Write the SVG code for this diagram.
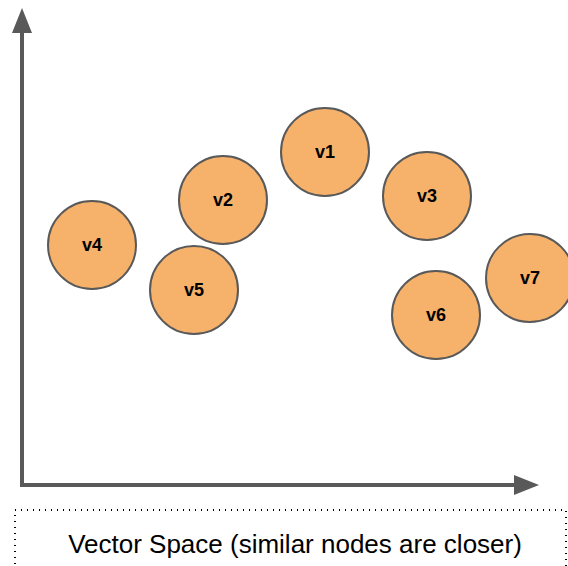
<svg xmlns="http://www.w3.org/2000/svg" width="568" height="566" viewBox="0 0 568 566">
<style>
.n circle{fill:#F6B26B;stroke:#595959;stroke-width:2}
.n text{font-family:"Liberation Sans",Arial,sans-serif;font-weight:bold;font-size:18px;fill:#000;text-anchor:middle}
.axis{stroke:#595959;stroke-width:4;fill:none}
.cap{font-family:"Liberation Sans",Arial,sans-serif;font-size:26px;fill:#000;text-anchor:middle}
</style>
<rect width="568" height="566" fill="#fff"/>
<g id="axes">
<path class="axis" d="M22 485 V30"/>
<path class="axis" d="M20 485 H515"/>
<polygon points="22,8 12,33 32,33" fill="#595959"/>
<polygon points="539,485 514,475 514,495" fill="#595959"/>
</g>
<g id="caption">
<rect x="15" y="510" width="551" height="70" fill="none" stroke="#000" stroke-width="2" stroke-dasharray="1 5"/>
<text class="cap" x="295" y="553">Vector Space (similar nodes are closer)</text>
</g>
<g id="v1" class="n"><circle cx="325" cy="152" r="44"/><text x="325" y="158">v1</text></g>
<g id="v2" class="n"><circle cx="223" cy="200" r="44"/><text x="223" y="206">v2</text></g>
<g id="v3" class="n"><circle cx="427" cy="196" r="44"/><text x="427" y="202">v3</text></g>
<g id="v4" class="n"><circle cx="92" cy="245" r="44"/><text x="92" y="251">v4</text></g>
<g id="v5" class="n"><circle cx="194" cy="290" r="44"/><text x="194" y="296">v5</text></g>
<g id="v6" class="n"><circle cx="436" cy="315" r="44"/><text x="436" y="321">v6</text></g>
<g id="v7" class="n"><circle cx="530" cy="278" r="44"/><text x="530" y="284">v7</text></g>
</svg>
